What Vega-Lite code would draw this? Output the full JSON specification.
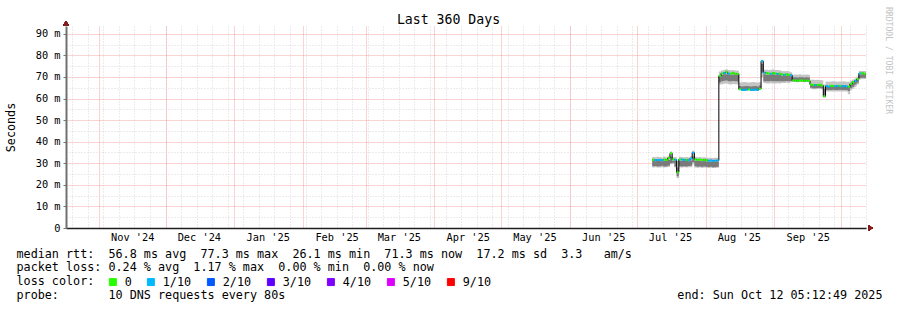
{
  "$schema": "https://vega.github.io/schema/vega-lite/v6.json",
  "width": 800,
  "height": 202,
  "autosize": {"type": "none"},
  "padding": {"left": 66, "top": 26, "right": 31, "bottom": 82},
  "background": "white",
  "config": {"view": {"stroke": null}, "font": "DejaVu Sans Mono"},
  "title": {"text": "Last 360 Days", "font": "DejaVu Sans Mono", "fontSize": 13.2, "fontWeight": "normal", "color": "#000", "anchor": "middle", "frame": "group", "dx": -17.5, "offset": -21},
  "data": {"values": [
    {"t":"2025-07-08","e":"2025-07-09","m":31.6,"l":"0","lo":28.0,"dl":28.6,"dh":31.0,"hi":32.9},
    {"t":"2025-07-09","e":"2025-07-10","m":31.4,"l":"1/10","lo":28.1,"dl":28.7,"dh":30.9,"hi":32.8},
    {"t":"2025-07-10","e":"2025-07-11","m":31.5,"l":"1/10","lo":28.0,"dl":28.5,"dh":31.0,"hi":33.0},
    {"t":"2025-07-11","e":"2025-07-12","m":31.6,"l":"1/10","lo":28.0,"dl":28.6,"dh":31.0,"hi":32.9},
    {"t":"2025-07-12","e":"2025-07-13","m":31.4,"l":"1/10","lo":28.2,"dl":28.8,"dh":30.9,"hi":32.7},
    {"t":"2025-07-13","e":"2025-07-14","m":31.7,"l":"0","lo":28.0,"dl":28.5,"dh":31.1,"hi":33.1},
    {"t":"2025-07-14","e":"2025-07-15","m":31.5,"l":"0","lo":28.1,"dl":28.6,"dh":31.0,"hi":32.8},
    {"t":"2025-07-15","e":"2025-07-16","m":32.5,"l":"0","lo":28.3,"dl":29.0,"dh":31.5,"hi":33.5},
    {"t":"2025-07-16","e":"2025-07-17","m":34.6,"l":"0","lo":29.5,"dl":30.0,"dh":33.0,"hi":35.5},
    {"t":"2025-07-17","e":"2025-07-18","m":31.8,"l":"0","lo":29.8,"dl":30.2,"dh":31.2,"hi":32.8},
    {"t":"2025-07-18","e":"2025-07-19","m":31.6,"l":"1/10","lo":28.0,"dl":28.5,"dh":31.0,"hi":32.9},
    {"t":"2025-07-19","e":"2025-07-20","m":25.8,"l":"0","lo":23.0,"dl":24.0,"dh":28.0,"hi":31.0},
    {"t":"2025-07-20","e":"2025-07-21","m":31.8,"l":"0","lo":28.0,"dl":28.6,"dh":31.2,"hi":33.0},
    {"t":"2025-07-21","e":"2025-07-22","m":31.7,"l":"1/10","lo":28.0,"dl":28.5,"dh":31.1,"hi":32.9},
    {"t":"2025-07-22","e":"2025-07-23","m":31.5,"l":"1/10","lo":28.1,"dl":28.6,"dh":31.0,"hi":32.8},
    {"t":"2025-07-23","e":"2025-07-24","m":31.6,"l":"0","lo":28.0,"dl":28.5,"dh":31.0,"hi":32.9},
    {"t":"2025-07-24","e":"2025-07-25","m":31.4,"l":"1/10","lo":28.2,"dl":28.7,"dh":30.9,"hi":32.8},
    {"t":"2025-07-25","e":"2025-07-26","m":32.2,"l":"1/10","lo":28.2,"dl":28.8,"dh":31.3,"hi":33.2},
    {"t":"2025-07-26","e":"2025-07-27","m":34.9,"l":"1/10","lo":29.5,"dl":30.5,"dh":33.2,"hi":35.8},
    {"t":"2025-07-27","e":"2025-07-28","m":31.8,"l":"0","lo":28.0,"dl":28.6,"dh":31.2,"hi":33.0},
    {"t":"2025-07-28","e":"2025-07-29","m":31.6,"l":"0","lo":27.9,"dl":28.4,"dh":31.0,"hi":32.8},
    {"t":"2025-07-29","e":"2025-07-30","m":31.7,"l":"0","lo":28.0,"dl":28.5,"dh":31.1,"hi":32.9},
    {"t":"2025-07-30","e":"2025-07-31","m":31.5,"l":"0","lo":27.8,"dl":28.4,"dh":30.9,"hi":32.7},
    {"t":"2025-07-31","e":"2025-08-01","m":31.6,"l":"0","lo":28.0,"dl":28.5,"dh":31.0,"hi":32.8},
    {"t":"2025-08-01","e":"2025-08-02","m":31.4,"l":"0","lo":27.9,"dl":28.4,"dh":30.8,"hi":32.6},
    {"t":"2025-08-02","e":"2025-08-03","m":31.2,"l":"1/10","lo":27.8,"dl":28.3,"dh":30.7,"hi":32.5},
    {"t":"2025-08-03","e":"2025-08-04","m":31.3,"l":"1/10","lo":27.9,"dl":28.4,"dh":30.8,"hi":32.6},
    {"t":"2025-08-04","e":"2025-08-05","m":31.1,"l":"1/10","lo":27.8,"dl":28.2,"dh":30.6,"hi":32.4},
    {"t":"2025-08-05","e":"2025-08-06","m":31.2,"l":"1/10","lo":27.8,"dl":28.3,"dh":30.7,"hi":32.5},
    {"t":"2025-08-06","e":"2025-08-07","m":31.3,"l":"1/10","lo":27.9,"dl":28.4,"dh":30.8,"hi":32.6},
    {"t":"2025-08-07","e":"2025-08-08","m":70.5,"l":"0","lo":66.5,"dl":67.5,"dh":70.0,"hi":72.5},
    {"t":"2025-08-08","e":"2025-08-09","m":71.6,"l":"0","lo":66.6,"dl":68.0,"dh":71.0,"hi":73.0},
    {"t":"2025-08-09","e":"2025-08-10","m":71.8,"l":"1/10","lo":66.8,"dl":68.2,"dh":71.2,"hi":73.3},
    {"t":"2025-08-10","e":"2025-08-11","m":72.3,"l":"0","lo":67.0,"dl":68.3,"dh":71.3,"hi":73.6},
    {"t":"2025-08-11","e":"2025-08-12","m":71.5,"l":"1/10","lo":66.6,"dl":68.0,"dh":71.0,"hi":73.2},
    {"t":"2025-08-12","e":"2025-08-13","m":71.6,"l":"0","lo":66.5,"dl":68.0,"dh":71.0,"hi":73.1},
    {"t":"2025-08-13","e":"2025-08-14","m":71.7,"l":"0","lo":66.7,"dl":68.1,"dh":71.1,"hi":73.2},
    {"t":"2025-08-14","e":"2025-08-15","m":71.5,"l":"0","lo":66.6,"dl":68.0,"dh":71.0,"hi":73.0},
    {"t":"2025-08-15","e":"2025-08-16","m":71.4,"l":"0","lo":66.5,"dl":67.9,"dh":70.9,"hi":73.0},
    {"t":"2025-08-16","e":"2025-08-17","m":64.3,"l":"0","lo":63.8,"dl":64.3,"dh":65.8,"hi":67.4},
    {"t":"2025-08-17","e":"2025-08-18","m":64.0,"l":"1/10","lo":63.6,"dl":64.2,"dh":65.6,"hi":67.5},
    {"t":"2025-08-18","e":"2025-08-19","m":64.0,"l":"1/10","lo":63.6,"dl":64.2,"dh":65.7,"hi":67.6},
    {"t":"2025-08-19","e":"2025-08-20","m":64.1,"l":"1/10","lo":63.7,"dl":64.3,"dh":65.8,"hi":67.5},
    {"t":"2025-08-20","e":"2025-08-21","m":64.2,"l":"0","lo":63.8,"dl":64.3,"dh":65.7,"hi":67.4},
    {"t":"2025-08-21","e":"2025-08-22","m":64.0,"l":"1/10","lo":63.6,"dl":64.2,"dh":65.6,"hi":67.5},
    {"t":"2025-08-22","e":"2025-08-23","m":64.0,"l":"1/10","lo":63.6,"dl":64.2,"dh":65.7,"hi":67.6},
    {"t":"2025-08-23","e":"2025-08-24","m":64.1,"l":"1/10","lo":63.7,"dl":64.3,"dh":65.8,"hi":67.5},
    {"t":"2025-08-24","e":"2025-08-25","m":64.0,"l":"1/10","lo":63.6,"dl":64.2,"dh":65.6,"hi":67.4},
    {"t":"2025-08-25","e":"2025-08-26","m":64.5,"l":"0","lo":64.0,"dl":64.5,"dh":66.0,"hi":67.6},
    {"t":"2025-08-26","e":"2025-08-27","m":77.3,"l":"1/10","lo":70.0,"dl":72.0,"dh":76.0,"hi":78.0},
    {"t":"2025-08-27","e":"2025-08-28","m":72.0,"l":"1/10","lo":67.2,"dl":68.0,"dh":71.2,"hi":73.3},
    {"t":"2025-08-28","e":"2025-08-29","m":71.7,"l":"0","lo":67.0,"dl":68.0,"dh":71.0,"hi":73.3},
    {"t":"2025-08-29","e":"2025-08-30","m":71.6,"l":"0","lo":67.0,"dl":68.0,"dh":71.0,"hi":73.2},
    {"t":"2025-08-30","e":"2025-08-31","m":71.5,"l":"1/10","lo":67.1,"dl":68.1,"dh":71.0,"hi":73.3},
    {"t":"2025-08-31","e":"2025-09-01","m":71.8,"l":"0","lo":67.0,"dl":68.0,"dh":71.2,"hi":73.4},
    {"t":"2025-09-01","e":"2025-09-02","m":71.6,"l":"0","lo":67.0,"dl":68.0,"dh":71.0,"hi":73.2},
    {"t":"2025-09-02","e":"2025-09-03","m":71.4,"l":"1/10","lo":67.1,"dl":68.0,"dh":70.9,"hi":73.2},
    {"t":"2025-09-03","e":"2025-09-04","m":71.5,"l":"0","lo":67.0,"dl":68.0,"dh":71.0,"hi":73.1},
    {"t":"2025-09-04","e":"2025-09-05","m":71.1,"l":"0","lo":67.2,"dl":68.0,"dh":70.6,"hi":72.7},
    {"t":"2025-09-05","e":"2025-09-06","m":71.0,"l":"1/10","lo":67.2,"dl":68.0,"dh":70.6,"hi":72.6},
    {"t":"2025-09-06","e":"2025-09-07","m":71.2,"l":"0","lo":67.3,"dl":68.1,"dh":70.7,"hi":72.7},
    {"t":"2025-09-07","e":"2025-09-08","m":71.0,"l":"0","lo":67.2,"dl":68.0,"dh":70.5,"hi":72.6},
    {"t":"2025-09-08","e":"2025-09-09","m":70.8,"l":"1/10","lo":67.5,"dl":68.1,"dh":70.3,"hi":72.2},
    {"t":"2025-09-09","e":"2025-09-10","m":68.4,"l":"0","lo":67.6,"dl":68.0,"dh":69.8,"hi":71.0},
    {"t":"2025-09-10","e":"2025-09-11","m":68.3,"l":"0","lo":67.6,"dl":68.0,"dh":69.8,"hi":71.1},
    {"t":"2025-09-11","e":"2025-09-12","m":68.2,"l":"0","lo":67.5,"dl":67.9,"dh":69.7,"hi":71.0},
    {"t":"2025-09-12","e":"2025-09-13","m":68.4,"l":"0","lo":67.6,"dl":68.0,"dh":69.8,"hi":71.2},
    {"t":"2025-09-13","e":"2025-09-14","m":68.3,"l":"0","lo":67.6,"dl":68.0,"dh":69.8,"hi":71.0},
    {"t":"2025-09-14","e":"2025-09-15","m":68.2,"l":"0","lo":67.5,"dl":67.9,"dh":69.7,"hi":71.0},
    {"t":"2025-09-15","e":"2025-09-16","m":68.3,"l":"0","lo":67.6,"dl":68.0,"dh":69.8,"hi":71.1},
    {"t":"2025-09-16","e":"2025-09-17","m":68.2,"l":"0","lo":67.5,"dl":67.9,"dh":69.7,"hi":71.0},
    {"t":"2025-09-17","e":"2025-09-18","m":66.5,"l":"0","lo":64.5,"dl":65.0,"dh":66.3,"hi":68.7},
    {"t":"2025-09-18","e":"2025-09-19","m":66.3,"l":"0","lo":64.3,"dl":64.8,"dh":66.2,"hi":68.7},
    {"t":"2025-09-19","e":"2025-09-20","m":66.2,"l":"1/10","lo":64.3,"dl":64.8,"dh":66.0,"hi":68.6},
    {"t":"2025-09-20","e":"2025-09-21","m":66.3,"l":"0","lo":64.4,"dl":64.9,"dh":66.2,"hi":68.7},
    {"t":"2025-09-21","e":"2025-09-22","m":66.4,"l":"0","lo":64.4,"dl":64.9,"dh":66.2,"hi":68.6},
    {"t":"2025-09-22","e":"2025-09-23","m":66.0,"l":"0","lo":64.2,"dl":64.7,"dh":66.0,"hi":68.5},
    {"t":"2025-09-23","e":"2025-09-24","m":61.0,"l":"0","lo":60.5,"dl":61.5,"dh":64.5,"hi":66.5},
    {"t":"2025-09-24","e":"2025-09-25","m":65.8,"l":"1/10","lo":63.2,"dl":64.0,"dh":65.6,"hi":67.9},
    {"t":"2025-09-25","e":"2025-09-26","m":65.5,"l":"1/10","lo":63.3,"dl":64.0,"dh":65.5,"hi":67.8},
    {"t":"2025-09-26","e":"2025-09-27","m":65.9,"l":"0","lo":63.2,"dl":64.0,"dh":65.6,"hi":67.9},
    {"t":"2025-09-27","e":"2025-09-28","m":65.8,"l":"0","lo":63.3,"dl":64.1,"dh":65.6,"hi":68.0},
    {"t":"2025-09-28","e":"2025-09-29","m":65.7,"l":"1/10","lo":63.2,"dl":64.0,"dh":65.5,"hi":67.9},
    {"t":"2025-09-29","e":"2025-09-30","m":65.8,"l":"1/10","lo":63.2,"dl":64.0,"dh":65.6,"hi":67.8},
    {"t":"2025-09-30","e":"2025-10-01","m":65.9,"l":"0","lo":63.3,"dl":64.1,"dh":65.7,"hi":67.9},
    {"t":"2025-10-01","e":"2025-10-02","m":65.7,"l":"1/10","lo":63.2,"dl":64.0,"dh":65.5,"hi":67.9},
    {"t":"2025-10-02","e":"2025-10-03","m":65.8,"l":"1/10","lo":63.3,"dl":64.0,"dh":65.6,"hi":68.0},
    {"t":"2025-10-03","e":"2025-10-04","m":65.6,"l":"1/10","lo":63.2,"dl":64.0,"dh":65.5,"hi":67.8},
    {"t":"2025-10-04","e":"2025-10-05","m":65.5,"l":"0","lo":62.0,"dl":63.5,"dh":65.4,"hi":67.8},
    {"t":"2025-10-05","e":"2025-10-06","m":66.8,"l":"0","lo":63.8,"dl":64.8,"dh":66.5,"hi":68.3},
    {"t":"2025-10-06","e":"2025-10-07","m":67.6,"l":"0","lo":64.5,"dl":65.5,"dh":67.2,"hi":68.8},
    {"t":"2025-10-07","e":"2025-10-08","m":68.2,"l":"1/10","lo":65.5,"dl":66.5,"dh":67.8,"hi":69.3},
    {"t":"2025-10-08","e":"2025-10-09","m":69.0,"l":"0","lo":66.5,"dl":67.3,"dh":68.8,"hi":70.3},
    {"t":"2025-10-09","e":"2025-10-10","m":71.6,"l":"1/10","lo":68.8,"dl":69.5,"dh":71.0,"hi":72.8},
    {"t":"2025-10-10","e":"2025-10-11","m":71.8,"l":"0","lo":69.0,"dl":69.6,"dh":71.2,"hi":72.8},
    {"t":"2025-10-11","e":"2025-10-12","m":71.5,"l":"0","lo":69.0,"dl":69.6,"dh":71.0,"hi":72.7},
    {"t":"2025-10-12","e":"2025-10-12T05:12:49Z","m":71.3,"l":"0","lo":69.0,"dl":69.6,"dh":70.9,"hi":72.7},
    {"t":"2025-10-12T05:12:49Z","e":"2025-10-12T05:12:49Z","m":71.3,"l":"0","lo":69.0,"dl":69.6,"dh":70.9,"hi":72.7}
  ]},
  "resolve": {"axis": {"x": "independent", "y": "independent"}},
  "layer": [
    {
      "mark": {"type": "area", "interpolate": "step-after", "color": "#c4c4c4", "opacity": 1},
      "encoding": {
        "x": {"field": "t", "type": "temporal",
          "scale": {"type": "utc", "nice": false, "domain": [{"year": 2024, "month": 10, "date": 17, "hours": 5, "minutes": 12, "seconds": 49, "utc": true}, {"year": 2025, "month": 10, "date": 12, "hours": 5, "minutes": 12, "seconds": 49, "utc": true}]},
          "axis": {"orient": "bottom", "tickCount": {"interval": "week", "step": 1}, "grid": true, "gridColor": "#d8d8d8", "gridDash": [1, 2], "gridWidth": 1, "labels": false, "ticks": false, "domain": false, "title": null}},
        "y": {"field": "lo", "type": "quantitative",
          "scale": {"domain": [0, 93.6], "nice": false, "zero": false},
          "axis": {"orient": "left", "values": [5, 15, 25, 35, 45, 55, 65, 75, 85], "grid": true, "gridColor": "#d8d8d8", "gridDash": [1, 2], "labels": false, "ticks": false, "domain": false, "title": null}},
        "y2": {"field": "hi"}
      }
    },
    {
      "mark": {"type": "area", "interpolate": "step-after", "color": "#7a7a7a", "opacity": 1},
      "encoding": {
        "x": {"field": "t", "type": "temporal",
          "scale": {"type": "utc", "nice": false, "domain": [{"year": 2024, "month": 10, "date": 17, "hours": 5, "minutes": 12, "seconds": 49, "utc": true}, {"year": 2025, "month": 10, "date": 12, "hours": 5, "minutes": 12, "seconds": 49, "utc": true}]},
          "axis": {"orient": "bottom", "tickCount": {"interval": "month", "step": 1}, "grid": true, "gridColor": "#f08a8a", "gridOpacity": 0.75, "gridDash": [1, 1], "gridWidth": 1, "labels": false, "ticks": false, "domain": true, "domainColor": "#1f1f1f", "domainWidth": 1.5, "title": null}},
        "y": {"field": "dl", "type": "quantitative",
          "scale": {"domain": [0, 93.6], "nice": false, "zero": false},
          "axis": {"orient": "left", "values": [0, 10, 20, 30, 40, 50, 60, 70, 80, 90], "grid": true, "gridColor": "#f08a8a", "gridOpacity": 0.75, "gridDash": [1, 1], "gridWidth": 1,
            "labelExpr": "datum.value == 0 ? '0' : datum.value + ' m'", "labelFont": "DejaVu Sans Mono", "labelFontSize": 10.3, "labelColor": "#000", "labelPadding": 3,
            "ticks": true, "tickSize": 3, "tickColor": "#777", "domain": true, "domainColor": "#707070", "domainWidth": 2,
            "title": "Seconds", "titleFont": "DejaVu Sans Mono", "titleFontSize": 11.75, "titleFontWeight": "normal", "titleColor": "#000", "titleX": -56, "titleY": 101, "titleAngle": -90, "titleAlign": "center", "titleBaseline": "middle"}},
        "y2": {"field": "dh"}
      }
    },
    {
      "mark": {"type": "line", "interpolate": "step-after", "color": "#000", "strokeWidth": 1},
      "encoding": {
        "x": {"field": "t", "type": "temporal",
          "scale": {"type": "utc", "nice": false, "domain": [{"year": 2024, "month": 10, "date": 17, "hours": 5, "minutes": 12, "seconds": 49, "utc": true}, {"year": 2025, "month": 10, "date": 12, "hours": 5, "minutes": 12, "seconds": 49, "utc": true}]},
          "axis": {"orient": "bottom",
            "values": [
              {"year": 2024, "month": 11, "date": 16, "utc": true},
              {"year": 2024, "month": 12, "date": 16, "utc": true},
              {"year": 2025, "month": 1, "date": 16, "utc": true},
              {"year": 2025, "month": 2, "date": 16, "utc": true},
              {"year": 2025, "month": 3, "date": 16, "utc": true},
              {"year": 2025, "month": 4, "date": 16, "utc": true},
              {"year": 2025, "month": 5, "date": 16, "utc": true},
              {"year": 2025, "month": 6, "date": 16, "utc": true},
              {"year": 2025, "month": 7, "date": 16, "utc": true},
              {"year": 2025, "month": 8, "date": 16, "utc": true},
              {"year": 2025, "month": 9, "date": 16, "utc": true}
            ],
            "labelExpr": "utcFormat(datum.value, '%b \\'%y')", "grid": false, "ticks": false, "domain": false,
            "labelFont": "DejaVu Sans Mono", "labelFontSize": 10.3, "labelColor": "#000", "labelPadding": 4.5, "labelOverlap": false, "labelFlush": false,
            "title": [
              "median rtt:\u00a0\u00a056.8 ms avg\u00a0\u00a077.3 ms max\u00a0\u00a026.1 ms min\u00a0\u00a071.3 ms now\u00a0\u00a017.2 ms sd\u00a0\u00a03.3\u00a0\u00a0\u00a0am/s",
              "packet loss: 0.24 % avg\u00a0\u00a01.17 % max\u00a0\u00a00.00 % min\u00a0\u00a00.00 % now",
              "loss color:",
              "probe:\u00a0\u00a0\u00a0\u00a0\u00a0\u00a0\u00a010 DNS requests every 80s"
            ],
            "titleFont": "DejaVu Sans Mono", "titleFontSize": 11.75, "titleFontWeight": "normal", "titleColor": "#000",
            "titleAlign": "left", "titleAnchor": "start", "titleX": -50, "titleY": 20, "titleBaseline": "top", "titleLineHeight": 13.8}},
        "y": {"field": "m", "type": "quantitative",
          "scale": {"domain": [0, 93.6], "nice": false, "zero": false},
          "axis": {"orient": "right", "grid": false, "labels": false, "ticks": false, "domain": false,
            "title": "RRDTOOL / TOBI OETIKER", "titleFont": "DejaVu Sans Mono", "titleFontSize": 8.1, "titleFontWeight": "normal", "titleColor": "#c4c4c4",
            "titleAngle": 90, "titleX": 21, "titleY": 34, "titleAlign": "center", "titleBaseline": "middle"}}
      }
    },
    {
      "mark": {"type": "rule", "strokeWidth": 2},
      "encoding": {
        "x": {"field": "t", "type": "temporal",
          "scale": {"type": "utc", "nice": false, "domain": [{"year": 2024, "month": 10, "date": 17, "hours": 5, "minutes": 12, "seconds": 49, "utc": true}, {"year": 2025, "month": 10, "date": 12, "hours": 5, "minutes": 12, "seconds": 49, "utc": true}]},
          "axis": {"orient": "bottom", "grid": false, "labels": false, "ticks": false, "domain": false,
            "title": "end: Sun Oct 12 05:12:49 2025", "titleFont": "DejaVu Sans Mono", "titleFontSize": 11.75, "titleFontWeight": "normal", "titleColor": "#000",
            "titleAlign": "right", "titleAnchor": "start", "titleX": 816, "titleY": 61.4, "titleBaseline": "top"}},
        "x2": {"field": "e"},
        "y": {"field": "m", "type": "quantitative", "scale": {"domain": [0, 93.6], "nice": false, "zero": false}, "axis": null},
        "color": {"field": "l", "type": "nominal",
          "scale": {"domain": ["0", "1/10", "2/10", "3/10", "4/10", "5/10", "9/10"], "range": ["#26ff00", "#00b8ff", "#0059ff", "#5e00ff", "#7e00ff", "#dd00ff", "#ff0000"]},
          "legend": {"orient": "none", "legendX": 41, "legendY": 250, "direction": "horizontal", "columns": 7, "title": null, "padding": 0, "offset": 0,
            "labelFont": "DejaVu Sans Mono", "labelFontSize": 11.75, "labelColor": "#000", "labelOffset": 6, "columnPadding": 13,
            "symbolType": "square", "symbolSize": 49, "symbolStrokeColor": "#000", "symbolStrokeWidth": 1,
            "encode": {"symbols": {"update": {"fill": {"scale": "color", "field": "value"}, "stroke": {"value": "#000"}, "strokeWidth": {"value": 1}, "opacity": {"value": 1}, "fillOpacity": {"value": 1}}}}}}
      }
    },
    {
      "mark": {"type": "point", "shape": "triangle-up", "filled": true, "size": 28, "color": "#801f1f", "opacity": 1},
      "encoding": {
        "x": {"datum": {"year": 2024, "month": 10, "date": 17, "hours": 5, "minutes": 12, "seconds": 49, "utc": true}, "type": "temporal",
          "scale": {"type": "utc", "nice": false, "domain": [{"year": 2024, "month": 10, "date": 17, "hours": 5, "minutes": 12, "seconds": 49, "utc": true}, {"year": 2025, "month": 10, "date": 12, "hours": 5, "minutes": 12, "seconds": 49, "utc": true}]}, "axis": null},
        "y": {"datum": 94.8, "type": "quantitative", "scale": {"domain": [0, 93.6], "nice": false, "zero": false}, "axis": null}
      }
    },
    {
      "mark": {"type": "point", "shape": "triangle-right", "filled": true, "size": 24, "color": "#801f1f", "opacity": 1},
      "encoding": {
        "x": {"datum": {"year": 2025, "month": 10, "date": 14, "hours": 8, "utc": true}, "type": "temporal",
          "scale": {"type": "utc", "nice": false, "domain": [{"year": 2024, "month": 10, "date": 17, "hours": 5, "minutes": 12, "seconds": 49, "utc": true}, {"year": 2025, "month": 10, "date": 12, "hours": 5, "minutes": 12, "seconds": 49, "utc": true}]}, "axis": null},
        "y": {"datum": 0, "type": "quantitative", "scale": {"domain": [0, 93.6], "nice": false, "zero": false}, "axis": null}
      }
    }
  ]
}
